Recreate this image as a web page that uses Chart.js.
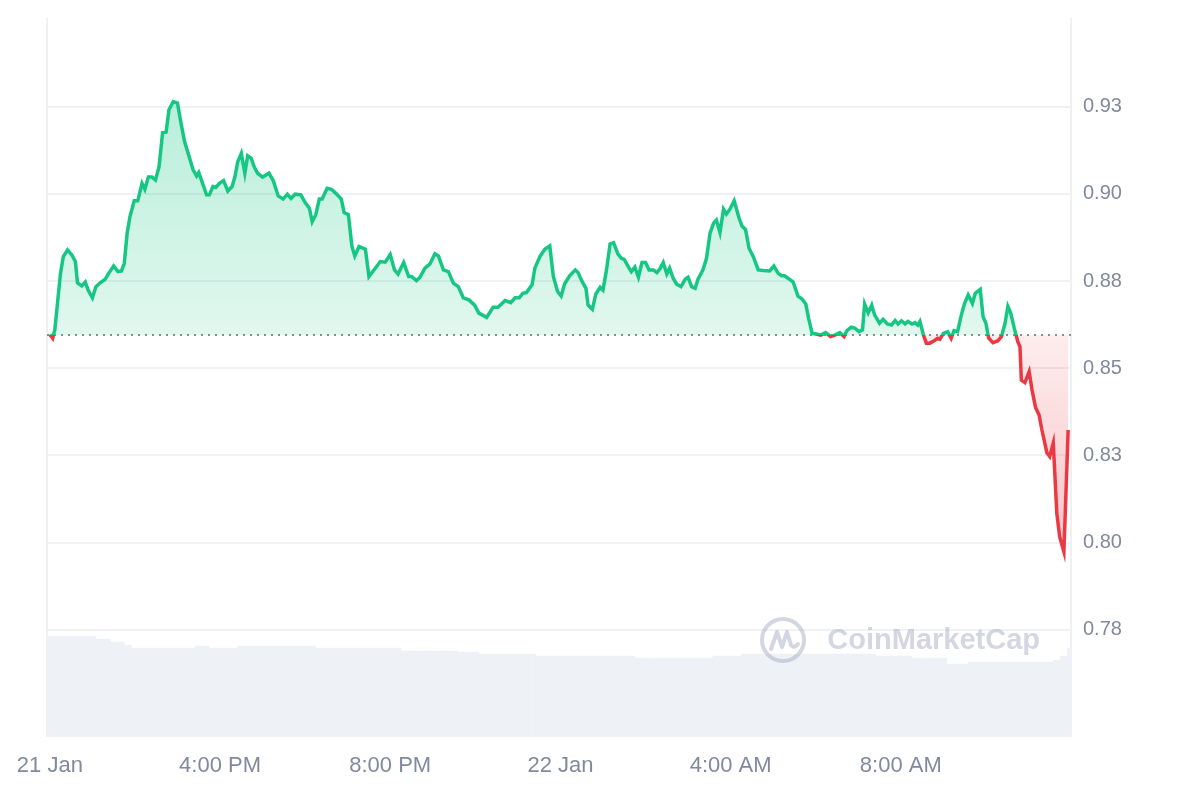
<!DOCTYPE html>
<html>
<head>
<meta charset="utf-8">
<script src="https://cdn.jsdelivr.net/npm/chart.js@4.4.1/dist/chart.umd.min.js"></script>
<style>html,body{margin:0;padding:0;background:#fff}canvas{display:block}</style>
</head>
<body>
<canvas id="c" width="1200" height="800"></canvas>
<script>
// minutes after 12:00 PM, 21 Jan
const minutes = [
  0,4,7,15,19,25,31,36,39,45,
  50,54,60,65,71,78,83,90,96,101,
  105,109,113,119,124,130,134,139,144,149,
  154,159,164,168,174,180,185,190,195,202,
  207,210,215,221,225,230,234,239,245,251,
  257,261,265,270,275,279,284,288,293,300,
  309,315,322,329,335,340,346,354,360,366,
  370,375,380,384,391,397,403,411,415,421,
  426,430,436,445,450,458,466,473,480,486,
  491,499,506,510,517,522,529,536,543,548,
  555,562,569,576,583,591,599,605,616,625,
  632,642,650,656,662,667,672,680,684,691,
  698,705,710,716,721,726,733,741,745,750,
  756,759,765,770,776,780,785,790,795,801,
  806,810,816,820,825,830,835,840,845,851,
  856,860,865,870,874,879,884,890,896,900,
  905,910,914,921,926,931,936,940,945,950,
  954,959,965,972,976,981,986,992,999,1006,
  1015,1021,1027,1032,1036,1041,1048,1055,1061,1066,
  1070,1075,1081,1087,1094,1101,1107,1114,1120,1124,
  1130,1135,1141,1146,1149,1154,1159,1163,1170,1175,
  1181,1187,1192,1196,1201,1206,1210,1216,1220,1224,
  1227,1232,1236,1241,1247,1252,1255,1260,1266,1271,
  1275,1280,1286,1290,1295,1301,1305,1312,1316,1320,
  1324,1330,1337,1342,1347,1351,1355,1360,1365,1368,
  1370,1375,1381,1385,1390,1395,1399,1406,1410,1415,
  1420,1424,1430,1436
];
const prices = [
  0.8597,0.8586,0.8610,0.8772,0.8820,0.8839,0.8825,0.8806,0.8745,0.8736,
  0.8747,0.8724,0.8702,0.8734,0.8745,0.8755,0.8772,0.8793,0.8777,0.8779,
  0.8801,0.8887,0.8935,0.8980,0.8980,0.9030,0.9013,0.9048,0.9048,0.9040,
  0.9078,0.9175,0.9177,0.9241,0.9264,0.9260,0.9202,0.9150,0.9116,0.9069,
  0.9051,0.9061,0.9032,0.8997,0.8997,0.9021,0.9018,0.9030,0.9038,0.9008,
  0.9021,0.9049,0.9092,0.9116,0.9059,0.9109,0.9102,0.9078,0.9059,0.9048,
  0.9059,0.9038,0.8994,0.8985,0.8999,0.8987,0.8999,0.8997,0.8975,0.8959,
  0.8920,0.8940,0.8985,0.8985,0.9016,0.9013,0.9002,0.8985,0.8946,0.8940,
  0.8849,0.8822,0.8849,0.8841,0.8763,0.8784,0.8806,0.8804,0.8826,0.8782,
  0.8770,0.8803,0.8763,0.8763,0.8751,0.8761,0.8787,0.8799,0.8828,0.8822,
  0.8782,0.8777,0.8744,0.8734,0.8702,0.8696,0.8681,0.8658,0.8646,0.8675,
  0.8675,0.8694,0.8688,0.8702,0.8702,0.8715,0.8717,0.8739,0.8787,0.8820,
  0.8841,0.8851,0.8763,0.8720,0.8707,0.8742,0.8765,0.8782,0.8774,0.8751,
  0.8729,0.8681,0.8669,0.8713,0.8732,0.8724,0.8782,0.8856,0.8860,0.8828,
  0.8815,0.8812,0.8790,0.8777,0.8790,0.8761,0.8803,0.8803,0.8782,0.8782,
  0.8774,0.8784,0.8803,0.8770,0.8787,0.8758,0.8741,0.8734,0.8755,0.8761,
  0.8734,0.8729,0.8755,0.8782,0.8815,0.8887,0.8916,0.8925,0.8889,0.8956,
  0.8942,0.8956,0.8980,0.8930,0.8908,0.8898,0.8844,0.8820,0.8782,0.8780,
  0.8779,0.8793,0.8772,0.8765,0.8765,0.8758,0.8748,0.8707,0.8698,0.8684,
  0.8643,0.8600,0.8598,0.8595,0.8602,0.8591,0.8595,0.8602,0.8591,0.8608,
  0.8618,0.8615,0.8605,0.8610,0.8684,0.8659,0.8681,0.8653,0.8629,0.8640,
  0.8627,0.8624,0.8637,0.8627,0.8636,0.8627,0.8634,0.8627,0.8631,0.8624,
  0.8634,0.8595,0.8572,0.8572,0.8579,0.8586,0.8583,0.8600,0.8605,0.8586,
  0.8608,0.8605,0.8658,0.8686,0.8710,0.8686,0.8715,0.8726,0.8648,0.8629,
  0.8586,0.8573,0.8579,0.8591,0.8629,0.8677,0.8658,0.8615,0.8576,0.8562,
  0.8466,0.8459,0.8490,0.8438,0.8388,0.8366,0.8323,0.8258,0.8247,0.8285,
  0.8084,0.8017,0.7974,0.8323
];
const openPrice = 0.8595;
// volume (millions), one bar every 10 minutes from 12:00 PM
const volumeStep = 10;
const volumes = [
  50.5,50.5,50.5,50.5,50.5,50.5,50.5,49.0,49.0,47.5,
  47.5,46.0,44.5,44.5,44.5,44.5,44.5,44.5,44.5,44.5,
  44.5,45.5,45.5,44.5,44.5,44.5,44.5,45.5,45.5,45.5,
  45.5,45.5,45.5,45.5,45.5,45.5,45.5,45.5,44.5,44.5,
  44.5,44.5,44.5,44.5,44.5,44.5,44.5,44.5,44.5,44.5,
  43.0,43.0,43.0,43.0,43.0,43.0,43.0,43.0,42.5,42.5,
  42.5,41.5,41.5,41.5,41.5,41.5,41.5,41.5,41.5,40.5,
  40.5,40.5,40.5,40.5,40.5,40.5,40.5,40.5,40.5,40.5,
  40.5,40.5,40.5,39.5,39.5,39.5,39.5,39.5,39.5,39.5,
  39.5,39.5,39.5,39.5,40.5,40.5,40.5,40.5,41.5,41.5,
  41.5,41.5,41.5,41.5,41.5,41.5,41.5,41.5,41.5,41.5,
  41.5,41.5,41.5,41.5,41.5,41.5,41.5,40.5,40.5,40.5,
  40.5,40.5,39.5,39.5,39.5,39.5,39.5,36.5,36.5,36.5,
  37.5,37.5,37.5,37.5,37.5,37.5,37.5,37.5,37.5,37.5,
  37.5,37.5,38.5,40.5,44.5
];
const xTickMinutes = [0,240,480,720,960,1200];
const xTickLabels = ['21 Jan','4:00 PM','8:00 PM','22 Jan','4:00 AM','8:00 AM'];
const yTickValues = [0.775,0.8,0.825,0.85,0.875,0.9,0.925];
const yTickLabels = ['0.78','0.80','0.83','0.85','0.88','0.90','0.93'];
const xMin = -4, xMax = 1440;
const yMin = 0.7443, yMax = 0.9504;
const volMax = 360;

const GREEN = '#16c784', RED = '#ea3943';
const TEXT = '#808a9d';
const FONT = '"Liberation Sans", Arial, Helvetica, sans-serif';

function lineColor(ctx) {
  const ch = ctx.chart, a = ch.chartArea;
  if (!a) return GREEN;
  const yb = ch.scales.y.getPixelForValue(openPrice);
  const f = Math.min(1, Math.max(0, (yb - a.top) / (a.bottom - a.top)));
  const g = ch.ctx.createLinearGradient(0, a.top, 0, a.bottom);
  g.addColorStop(0, GREEN); g.addColorStop(f, GREEN);
  g.addColorStop(f, RED); g.addColorStop(1, RED);
  return g;
}
function fillOption(ctx) {
  const ch = ctx.chart, a = ch.chartArea;
  if (!a) return {value: openPrice, above: 'rgba(22,199,132,0.2)', below: 'rgba(234,57,67,0.15)'};
  const yb = ch.scales.y.getPixelForValue(openPrice);
  const ga = ch.ctx.createLinearGradient(0, a.top, 0, yb);
  ga.addColorStop(0, 'rgba(22,199,132,0.36)');
  ga.addColorStop(1, 'rgba(22,199,132,0.13)');
  const gb = ch.ctx.createLinearGradient(0, yb, 0, a.bottom);
  gb.addColorStop(0, 'rgba(234,57,67,0.09)');
  gb.addColorStop(1, 'rgba(234,57,67,0.48)');
  return {value: openPrice, above: ga, below: gb};
}

const framePlugin = {
  id: 'frame',
  beforeDatasetsDraw(chart) {
    const {ctx, chartArea: a} = chart;
    ctx.save();
    ctx.strokeStyle = '#eef0f3';
    ctx.lineWidth = 2;
    ctx.beginPath();
    ctx.moveTo(a.left, a.top); ctx.lineTo(a.left, a.bottom);
    ctx.moveTo(a.right, a.top); ctx.lineTo(a.right, a.bottom);
    ctx.stroke();
    ctx.restore();
  }
};
const watermarkPlugin = {
  id: 'watermark',
  afterDatasetsDraw(chart) {
    const {ctx, chartArea: a} = chart;
    const cx = a.right - 288, cy = a.bottom - 97, r = 21;
    ctx.save();
    ctx.strokeStyle = 'rgba(150,160,185,0.42)';
    ctx.fillStyle = 'rgba(150,160,185,0.42)';
    ctx.lineWidth = 4;
    ctx.lineCap = 'round'; ctx.lineJoin = 'round';
    ctx.beginPath(); ctx.arc(cx, cy, r, 0, Math.PI * 2); ctx.stroke();
    ctx.beginPath();
    ctx.moveTo(cx - 12, cy + 9);
    ctx.lineTo(cx - 6, cy - 8);
    ctx.lineTo(cx - 1, cy + 7);
    ctx.lineTo(cx + 4, cy - 8);
    ctx.lineTo(cx + 8, cy + 5);
    ctx.quadraticCurveTo(cx + 11, cy + 9, cx + 15, cy + 4);
    ctx.stroke();
    ctx.font = 'bold 29px ' + FONT;
    ctx.textAlign = 'right'; ctx.textBaseline = 'middle';
    ctx.fillText('CoinMarketCap', a.right - 31, cy + 1, 218);
    ctx.restore();
  }
};

Chart.defaults.font.family = FONT;

new Chart(document.getElementById('c'), {
  data: {
    datasets: [
      {
        type: 'line',
        label: 'Price',
        data: minutes.map((m, i) => ({x: m, y: prices[i]})),
        borderColor: lineColor,
        borderWidth: 3.5,
        pointRadius: 0,
        tension: 0,
        fill: fillOption,
        yAxisID: 'y',
        order: 0
      },
      {
        type: 'line',
        label: 'Open',
        data: [{x: xMin, y: openPrice}, {x: xMax, y: openPrice}],
        borderColor: '#8d8d8d',
        borderWidth: 2,
        borderDash: [2, 5],
        pointRadius: 0,
        fill: false,
        yAxisID: 'y',
        order: 1
      },
      {
        type: 'bar',
        label: 'Volume',
        data: volumes.map((v, i) => ({x: i * volumeStep, y: v})),
        backgroundColor: '#eef1f5',
        borderWidth: 0,
        barPercentage: 1,
        categoryPercentage: 1,
        yAxisID: 'yv',
        order: 2
      }
    ]
  },
  options: {
    responsive: false,
    devicePixelRatio: 1,
    animation: false,
    layout: {padding: {left: 47, top: 18, right: 0, bottom: 0}},
    plugins: {legend: {display: false}, tooltip: {enabled: false}},
    scales: {
      x: {
        type: 'linear',
        offset: false,
        min: xMin, max: xMax,
        grid: {display: false, drawTicks: false, offset: false},
        border: {display: false},
        afterBuildTicks: (s) => { s.ticks = xTickMinutes.map(v => ({value: v})); },
        ticks: {
          autoSkip: false, maxRotation: 0, padding: 16,
          color: TEXT, font: {size: 22},
          callback: (v) => xTickLabels[xTickMinutes.indexOf(v)]
        },
        afterFit: (s) => { s.height = 63; s.paddingLeft = 0; s.paddingRight = 0; }
      },
      y: {
        type: 'linear',
        position: 'right',
        min: yMin, max: yMax,
        grid: {color: '#eff1f4', lineWidth: 2, drawTicks: false},
        border: {display: false},
        afterBuildTicks: (s) => { s.ticks = yTickValues.map(v => ({value: v})); },
        ticks: {
          padding: 12, color: TEXT, font: {size: 20},
          callback: (v) => yTickLabels[yTickValues.indexOf(v)]
        },
        afterFit: (s) => { s.width = 129; s.paddingTop = 0; s.paddingBottom = 0; }
      },
      yv: {
        type: 'linear',
        display: false,
        min: 0, max: volMax
      }
    }
  },
  plugins: [framePlugin, watermarkPlugin]
});
</script>
</body>
</html>
